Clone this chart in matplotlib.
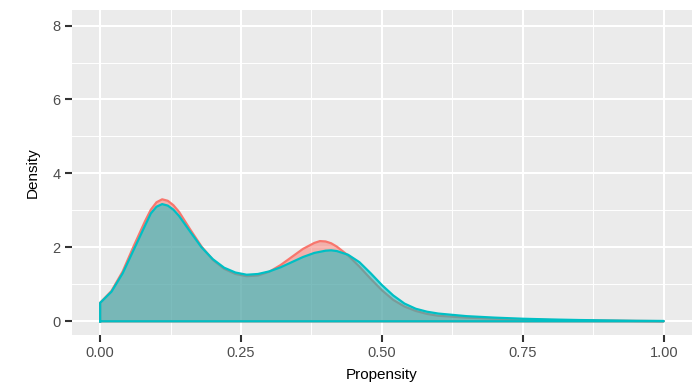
import matplotlib
matplotlib.use("Agg")
import matplotlib.pyplot as plt

# estimated density curves
x_red = [0.00, 0.02, 0.04, 0.06, 0.08, 0.09, 0.10, 0.11, 0.12, 0.13, 0.14, 0.16, 0.18, 0.20,
         0.22, 0.24, 0.26, 0.28, 0.30, 0.32, 0.34, 0.36, 0.38, 0.39, 0.40, 0.41, 0.42, 0.44,
         0.46, 0.48, 0.50, 0.52, 0.54, 0.56, 0.58, 0.60, 0.65, 0.70, 0.75, 0.80, 0.85, 0.90,
         0.95, 1.00]
y_red = [0.50, 0.82, 1.35, 2.05, 2.72, 3.02, 3.22, 3.30, 3.26, 3.14, 2.96, 2.48, 2.02, 1.66,
         1.42, 1.28, 1.22, 1.24, 1.34, 1.52, 1.74, 1.96, 2.12, 2.17, 2.16, 2.11, 2.02, 1.78,
         1.48, 1.15, 0.84, 0.58, 0.40, 0.28, 0.20, 0.15, 0.10, 0.07, 0.05, 0.035, 0.025, 0.018,
         0.010, 0.005]

x_teal = [0.00, 0.02, 0.04, 0.06, 0.08, 0.09, 0.10, 0.11, 0.12, 0.13, 0.14, 0.16, 0.18, 0.20,
          0.22, 0.24, 0.26, 0.28, 0.30, 0.32, 0.34, 0.36, 0.38, 0.40, 0.41, 0.42, 0.44, 0.46,
          0.48, 0.50, 0.52, 0.54, 0.56, 0.58, 0.60, 0.65, 0.70, 0.75, 0.80, 0.85, 0.90, 0.95,
          1.00]
y_teal = [0.50, 0.80, 1.30, 1.95, 2.60, 2.92, 3.10, 3.17, 3.13, 3.02, 2.85, 2.42, 2.00, 1.68,
          1.45, 1.32, 1.26, 1.28, 1.35, 1.46, 1.60, 1.74, 1.85, 1.91, 1.92, 1.90, 1.80, 1.60,
          1.30, 0.98, 0.70, 0.48, 0.34, 0.26, 0.21, 0.14, 0.10, 0.07, 0.05, 0.035, 0.025, 0.015,
          0.010]

x_ticks = [0.00, 0.25, 0.50, 0.75, 1.00]
x_tick_labels = ["0.00", "0.25", "0.50", "0.75", "1.00"]
y_ticks = [0, 2, 4, 6, 8]

red = "#F8766D"
teal = "#00BFC4"

plt.rcParams["font.family"] = ["Liberation Sans", "DejaVu Sans"]

fig = plt.figure(figsize=(6.94, 3.92), dpi=100)
ax = fig.add_axes([0.1037, 0.1454, 0.8933, 0.8291])
ax.set_facecolor("#EBEBEB")

# ggplot-like grid
for v in [0.125, 0.375, 0.625, 0.875]:
    ax.axvline(v, color="white", lw=0.7, zorder=0)
for v in [1, 3, 5, 7]:
    ax.axhline(v, color="white", lw=0.7, zorder=0)
for v in x_ticks:
    ax.axvline(v, color="white", lw=1.5, zorder=0)
for v in y_ticks:
    ax.axhline(v, color="white", lw=1.5, zorder=0)

for xs, ys, col in [(x_red, y_red, red), (x_teal, y_teal, teal)]:
    px = [xs[0]] + xs + [xs[-1], xs[0]]
    py = [0] + ys + [0, 0]
    ax.fill(px, py, facecolor=col, alpha=0.5, edgecolor="none", zorder=2)
    ax.plot(px, py, color=col, lw=1.6, zorder=2, solid_joinstyle="round")

ax.set_xlim(-0.05, 1.05)
ax.set_ylim(-0.37, 8.42)
ax.set_xticks(x_ticks)
ax.set_xticklabels(x_tick_labels)
ax.set_yticks(y_ticks)

for s in ax.spines.values():
    s.set_visible(False)
ax.tick_params(axis="both", length=5, width=1.5, color="#333333",
               labelcolor="#4D4D4D", labelsize=10.5, pad=3)

ax.set_xlabel("Propensity", fontsize=11, color="black", labelpad=6)
ax.set_ylabel("Density", fontsize=11, color="black", labelpad=9)

fig.savefig("out.png", dpi=100)
